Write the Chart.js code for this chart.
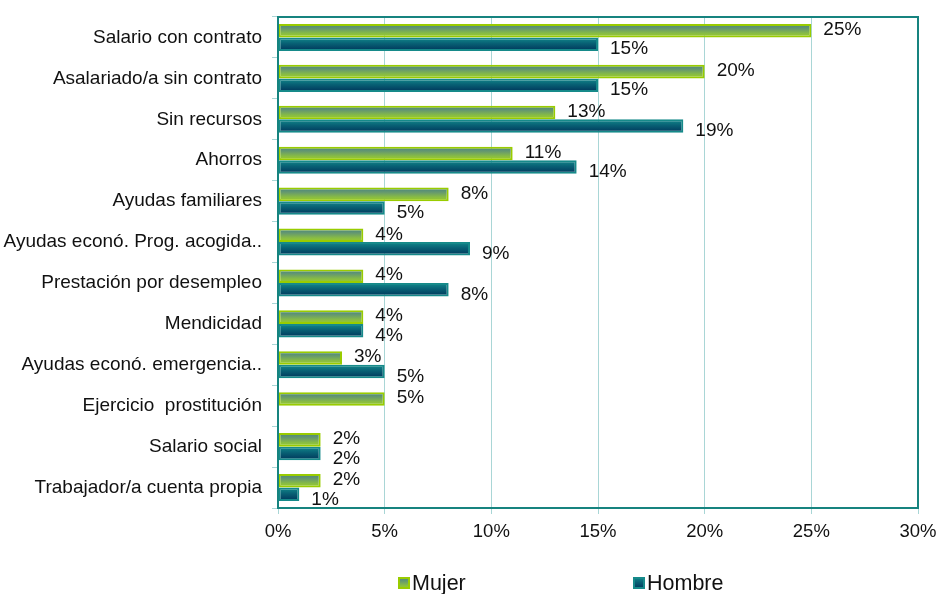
<!DOCTYPE html>
<html>
<head>
<meta charset="utf-8">
<script src="https://cdn.jsdelivr.net/npm/chart.js@4"></script>
<style>
html,body{margin:0;padding:0;background:#fff;}
#wrap{width:941px;height:594px;position:relative;}
</style>
</head>
<body>
<div id="wrap"><canvas id="c" width="941" height="594"></canvas></div>
<script>
const categories = [
  "Salario con contrato",
  "Asalariado/a sin contrato",
  "Sin recursos",
  "Ahorros",
  "Ayudas familiares",
  "Ayudas econó. Prog. acogida..",
  "Prestación por desempleo",
  "Mendicidad",
  "Ayudas econó. emergencia..",
  "Ejercicio  prostitución",
  "Salario social",
  "Trabajador/a cuenta propia"
];
const mujer  = [25, 20, 13, 11, 8, 4, 4, 4, 3, 5, 2, 2];
const hombre = [15, 15, 19, 14, 5, 9, 8, 4, 5, null, 2, 1];
const seriesNames = ["Mujer", "Hombre"];
const xTicks = [0, 5, 10, 15, 20, 25, 30];

const FONT = "'Liberation Sans', Arial, sans-serif";
const PLOT_LEFT = 278, PLOT_TOP = 17, PLOT_RIGHT = 918, PLOT_BOTTOM = 508;
const W = 941, H = 594;

const gradStops = {
  0: [[0, '#468282'], [0.35, '#66996e'], [0.7, '#88bc44'], [1, '#9ccc26']],
  1: [[0, '#128a8c'], [0.45, '#086074'], [1, '#00345a']]
};

const gradientPlugin = {
  id: 'gradients',
  beforeDatasetsDraw(chart) {
    const ctx = chart.ctx;
    chart.data.datasets.forEach((ds, di) => {
      const meta = chart.getDatasetMeta(di);
      meta.data.forEach(el => {
        if (!el || el.height == null) return;
        const top = el.y - el.height / 2, bot = el.y + el.height / 2;
        const g = ctx.createLinearGradient(0, top, 0, bot);
        gradStops[di].forEach(s => g.addColorStop(s[0], s[1]));
        el.options = Object.assign({}, el.options, {backgroundColor: g});
      });
    });
  }
};

const framePlugin = {
  id: 'frame',
  afterDatasetsDraw(chart) {
    const ctx = chart.ctx, a = chart.chartArea;
    ctx.save();
    ctx.strokeStyle = '#16837f';
    ctx.lineWidth = 2;
    ctx.strokeRect(a.left, a.top, a.right - a.left, a.bottom - a.top);
    ctx.restore();
  }
};

const labelPlugin = {
  id: 'vlabels',
  afterDatasetsDraw(chart) {
    const ctx = chart.ctx;
    ctx.save();
    ctx.font = '19px ' + FONT;
    ctx.fillStyle = '#111';
    ctx.textAlign = 'left';
    ctx.textBaseline = 'middle';
    chart.data.datasets.forEach((ds, di) => {
      const meta = chart.getDatasetMeta(di);
      meta.data.forEach((el, i) => {
        const v = ds.data[i];
        if (v == null) return;
        const dy = di === 0 ? -1 : 5;
        ctx.fillText(v + '%', el.x + 12, el.y + dy);
      });
    });
    ctx.restore();
  }
};

const legendPlugin = {
  id: 'customLegend',
  afterDraw(chart) {
    const ctx = chart.ctx;
    const items = [
      {x: 398, di: 0},
      {x: 633, di: 1}
    ];
    ctx.save();
    ctx.font = '21.5px ' + FONT;
    ctx.textBaseline = 'middle';
    ctx.textAlign = 'left';
    items.forEach(it => {
      const y = 583, s = 12;
      const g = ctx.createLinearGradient(0, y - s / 2, 0, y + s / 2);
      gradStops[it.di].forEach(st => g.addColorStop(st[0], st[1]));
      ctx.fillStyle = g;
      ctx.fillRect(it.x, y - s / 2, s, s);
      ctx.strokeStyle = chart.data.datasets[it.di].borderColor;
      ctx.lineWidth = 2;
      ctx.strokeRect(it.x + 1, y - s / 2 + 1, s - 2, s - 2);
      ctx.fillStyle = '#111';
      ctx.fillText(chart.data.datasets[it.di].label, it.x + s + 2, y + 1);
    });
    ctx.restore();
  }
};

new Chart(document.getElementById('c'), {
  type: 'bar',
  data: {
    labels: categories,
    datasets: [
      {label: seriesNames[0], data: mujer, backgroundColor: '#7fb04a', borderColor: '#99cc00', borderWidth: 2, borderSkipped: false},
      {label: seriesNames[1], data: hombre, backgroundColor: '#0b5f72', borderColor: '#168a8a', borderWidth: 2, borderSkipped: false}
    ]
  },
  options: {
    indexAxis: 'y',
    responsive: false,
    animation: false,
    layout: {padding: {top: PLOT_TOP, right: W - PLOT_RIGHT, bottom: 50, left: 0}},
    datasets: {bar: {categoryPercentage: 0.66, barPercentage: 1.0}},
    plugins: {legend: {display: false}, tooltip: {enabled: false}},
    scales: {
      x: {
        min: 0, max: 30,
        afterBuildTicks(scale) { scale.ticks = xTicks.map(v => ({value: v})); },
        afterFit(scale) {
          scale.height = H - 50 - PLOT_BOTTOM;
          scale.paddingLeft = 0; scale.paddingRight = 0;
        },
        ticks: {
          callback: v => v + '%',
          font: {family: FONT, size: 18.5},
          color: '#111',
          padding: 7,
          maxRotation: 0
        },
        grid: {color: '#a9d6d6', lineWidth: 1, tickLength: 6, drawTicks: true},
        border: {display: false}
      },
      y: {
        afterFit(scale) {
          scale.width = PLOT_LEFT;
          scale.paddingTop = 0; scale.paddingBottom = 0;
        },
        ticks: {
          font: {family: FONT, size: 19},
          color: '#111',
          padding: 10,
          autoSkip: false
        },
        grid: {drawOnChartArea: false, color: '#a9d6d6', tickLength: 6, offset: true},
        border: {display: false}
      }
    }
  },
  plugins: [gradientPlugin, framePlugin, labelPlugin, legendPlugin]
});
</script>
</body>
</html>
